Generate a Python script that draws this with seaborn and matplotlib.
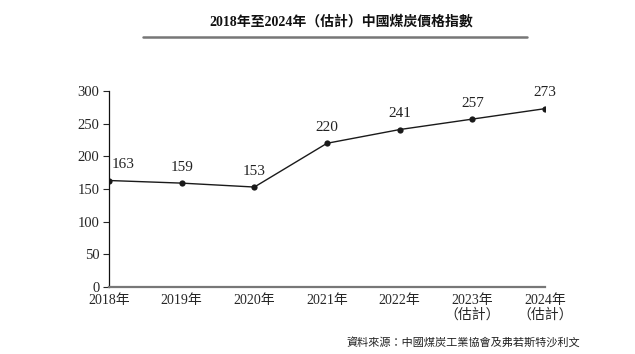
import matplotlib
matplotlib.use("Agg")
import matplotlib.pyplot as plt
from matplotlib.lines import Line2D
import seaborn as sns
import pandas as pd

# data
years = ["2018年", "2019年", "2020年", "2021年", "2022年", "2023年\n（估計）", "2024年\n（估計）"]
index_values = [163, 159, 153, 220, 241, 257, 273]

sns.set_style("ticks")
plt.rcParams["font.family"] = ["Liberation Serif", "Noto Sans CJK TC", "DejaVu Sans"]

df = pd.DataFrame({"pos": range(len(years)), "value": index_values})

fig = plt.figure(figsize=(6.35, 3.54), dpi=100)
ax = fig.add_axes([0.1717, 0.1893, 0.6866, 0.5536])

sns.lineplot(data=df, x="pos", y="value", ax=ax, color="#1a1a1a", linewidth=1.0,
             marker="o", markersize=4.5, markeredgewidth=0, markerfacecolor="#1a1a1a")

# value labels
for i, v in enumerate(index_values):
    dx = 14 if i == 0 else 0
    ax.annotate(str(v), (i, v), xytext=(dx, 16), textcoords="offset pixels",
                ha="center", va="center", fontsize=11, color="#222222")

ax.set_xlim(0, len(years) - 1)
ax.set_ylim(0, 300)
ax.set_yticks(range(0, 301, 50))
ax.set_xticks(range(len(years)))
ax.set_xticklabels(years, fontsize=10, linespacing=1.15)
ax.tick_params(axis="y", labelsize=10.5, length=4, width=0.8, pad=3)
ax.tick_params(axis="x", length=0, pad=5)
ax.set_xlabel("")
ax.set_ylabel("")
for side in ["top", "right"]:
    ax.spines[side].set_visible(False)
ax.spines["left"].set_color("#111111")
ax.spines["left"].set_linewidth(0.9)
ax.spines["bottom"].set_color("#777777")
ax.spines["bottom"].set_linewidth(1.6)

# title with rule underneath
fig.text(0.537, 0.938, "2018年至2024年（估計）中國煤炭價格指數", ha="center", va="center",
         fontsize=10, fontweight="bold", color="#111111")
fig.add_artist(Line2D([143 / 635, 527 / 635], [1 - 37 / 354, 1 - 37 / 354],
                      color="#777777", linewidth=1.8))

# source note
fig.text(0.913, 0.034, "資料來源：中國煤炭工業協會及弗若斯特沙利文", ha="right", va="center",
         fontsize=8, style="italic", color="#222222")

fig.savefig("out.png", dpi=100)
